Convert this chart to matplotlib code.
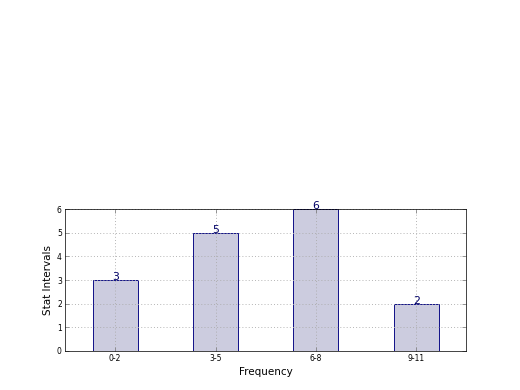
import matplotlib
matplotlib.use("Agg")
import matplotlib.pyplot as plt
import numpy as np

categories = ["0-2", "3-5", "6-8", "9-11"]
values = [3, 5, 6, 2]

fig = plt.figure(figsize=(8, 6), dpi=65)
fig.subplots_adjust(left=0.125, right=0.897, bottom=0.1, top=0.9, hspace=0.2)
ax = fig.add_subplot(2, 1, 2)
x = np.arange(len(categories))
ax.bar(x, values, width=0.45, color="#ccccdf", edgecolor="#000080", linewidth=1.0, zorder=1)
for xi, v in zip(x, values):
    ax.text(xi, v - 0.08, str(v), ha="center", va="bottom", color="#000066", fontsize=12, zorder=3)
ax.set_xlim(-0.5, 3.5)
ax.set_ylim(0, 6)
ax.set_xticks(x)
ax.set_xticklabels(categories, fontsize=8.5)
ax.set_yticks(range(7))
ax.tick_params(axis="y", labelsize=8.5)
ax.tick_params(direction="in", top=True, right=True, length=4, color="#777777")
ax.grid(True, linestyle=(0, (1, 2.5)), color="#aaaaaa", linewidth=1.0, zorder=2)
ax.set_axisbelow(False)
for sp in ax.spines.values():
    sp.set_zorder(4)
ax.set_xlabel("Frequency", fontsize=11.5)
ax.set_ylabel("Stat Intervals", fontsize=11.5)
fig.savefig("out.png", dpi=65)
